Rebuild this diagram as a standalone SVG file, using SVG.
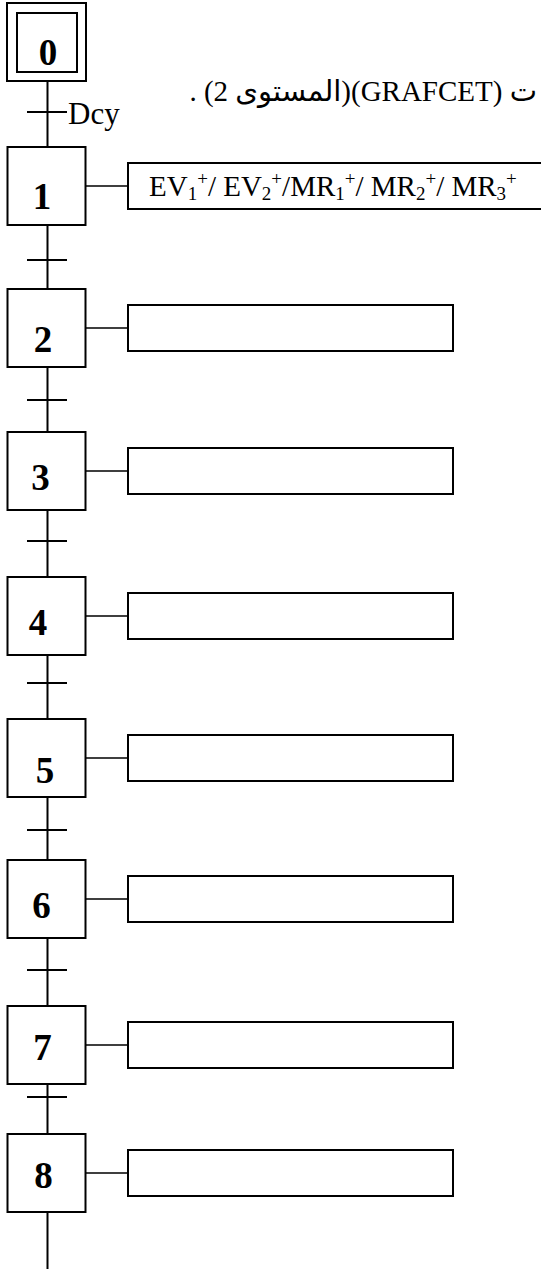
<svg xmlns="http://www.w3.org/2000/svg" width="541" height="1269" viewBox="0 0 541 1269">
<style>
.box{fill:#fff;stroke:#000;stroke-width:2}
.ln{stroke:#000;stroke-width:2;fill:none}
.cn{stroke:#000;stroke-width:1.6;fill:none}
.num{font-family:"Liberation Serif",serif;font-weight:bold;font-size:37px;text-anchor:middle}
.txt{font-family:"Liberation Serif","DejaVu Sans",serif}
.s{font-size:19px}
</style>
<rect width="541" height="1269" fill="#fff"/>
<g id="connectors">
<path class="ln" d="M47.5 81V147M47.5 225V289M47.5 367V432M47.5 510V577M47.5 655V719M47.5 797V860M47.5 938V1006M47.5 1084V1134M47.5 1212V1269"/>
<path class="ln" d="M27 112H67M27 260H67M27 400H67M27 541H67M27 683H67M27 830H67M27 970H67M27 1097H67"/>
<path class="cn" d="M86 186H128M86 328H128M86 471H128M86 616H128M86 758H128M86 899H128M86 1045H128M86 1173H128"/>
</g>
<text id="title" class="txt" x="537" y="101" font-size="29" direction="rtl" style="unicode-bidi:embed">ت (GRAFCET)(المستوى 2) .</text>
<text id="dcy" class="txt" x="68" y="124" font-size="31">Dcy</text>
<g id="step0">
<rect class="box" x="7" y="3" width="79" height="78"/>
<rect class="box" x="17" y="13" width="60" height="59"/>
<text class="num" x="48" y="65">0</text>
</g>
<g id="step1"><rect class="box" x="7.5" y="147" width="78" height="78"/><text class="num" x="42" y="209">1</text></g>
<g id="step2"><rect class="box" x="7.5" y="289" width="78" height="78"/><text class="num" x="43" y="352">2</text></g>
<g id="step3"><rect class="box" x="7.5" y="432" width="78" height="78"/><text class="num" x="40.5" y="490">3</text></g>
<g id="step4"><rect class="box" x="7.5" y="577" width="78" height="78"/><text class="num" x="38" y="635">4</text></g>
<g id="step5"><rect class="box" x="7.5" y="719" width="78" height="78"/><text class="num" x="45" y="783">5</text></g>
<g id="step6"><rect class="box" x="7.5" y="860" width="78" height="78"/><text class="num" x="41.5" y="918">6</text></g>
<g id="step7"><rect class="box" x="7.5" y="1006" width="78" height="78"/><text class="num" x="42.5" y="1060">7</text></g>
<g id="step8"><rect class="box" x="7.5" y="1134" width="78" height="78"/><text class="num" x="43.5" y="1188">8</text></g>
<g id="action1"><rect class="box" x="128" y="163" width="430" height="46"/>
<text class="txt" x="149" y="196" font-size="29">EV<tspan class="s" dy="4">1</tspan><tspan class="s" dy="-15">+</tspan><tspan dy="11">/ EV</tspan><tspan class="s" dy="4">2</tspan><tspan class="s" dy="-15">+</tspan><tspan dy="11">/MR</tspan><tspan class="s" dy="4">1</tspan><tspan class="s" dy="-15">+</tspan><tspan dy="11">/ MR</tspan><tspan class="s" dy="4">2</tspan><tspan class="s" dy="-15">+</tspan><tspan dy="11">/ MR</tspan><tspan class="s" dy="4">3</tspan><tspan class="s" dy="-15">+</tspan></text></g>
<g id="action2"><rect class="box" x="128" y="305" width="325" height="46"/></g>
<g id="action3"><rect class="box" x="128" y="448" width="325" height="46"/></g>
<g id="action4"><rect class="box" x="128" y="593" width="325" height="46"/></g>
<g id="action5"><rect class="box" x="128" y="735" width="325" height="46"/></g>
<g id="action6"><rect class="box" x="128" y="876" width="325" height="46"/></g>
<g id="action7"><rect class="box" x="128" y="1022" width="325" height="46"/></g>
<g id="action8"><rect class="box" x="128" y="1150" width="325" height="46"/></g>
</svg>
